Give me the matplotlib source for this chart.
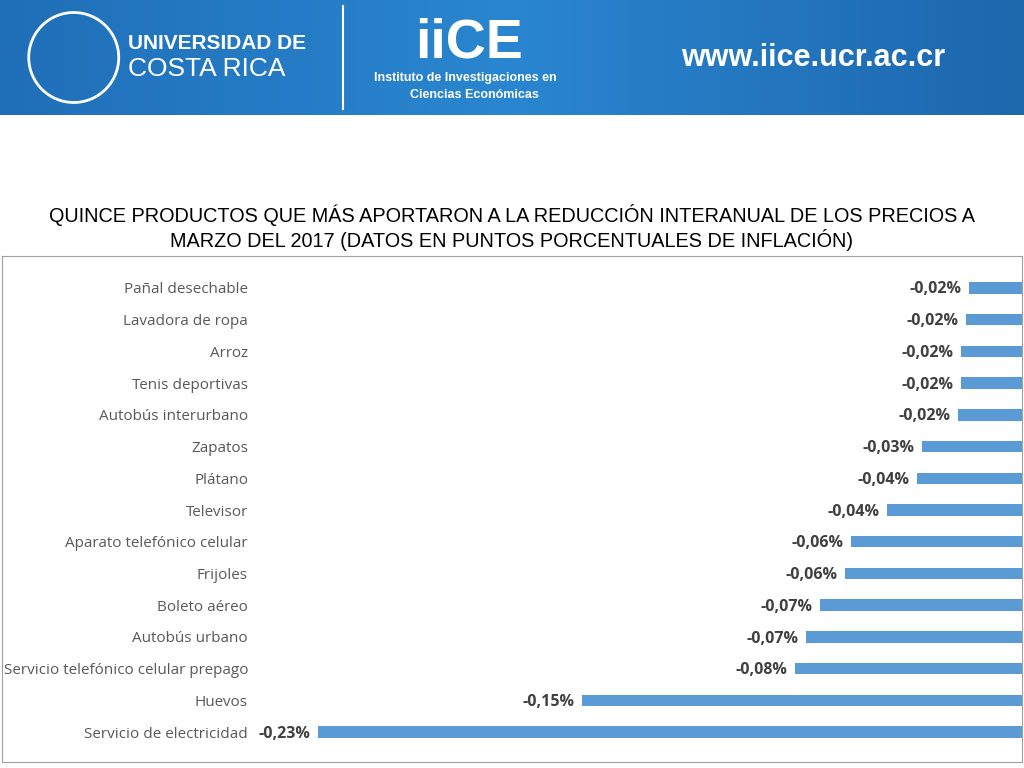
import matplotlib
matplotlib.use("Agg")
import matplotlib.pyplot as plt
import numpy as np
from matplotlib.colors import LinearSegmentedColormap
from matplotlib.patches import Ellipse

categories = ["Pañal desechable","Lavadora de ropa","Arroz","Tenis deportivas","Autobús interurbano",
              "Zapatos","Plátano","Televisor","Aparato telefónico celular","Frijoles","Boleto aéreo",
              "Autobús urbano","Servicio telefónico celular prepago","Huevos","Servicio de electricidad"]
values = [-0.0173,-0.0183,-0.0199,-0.0199,-0.0209,-0.0327,-0.0343,-0.0441,-0.0559,-0.0578,-0.066,
          -0.0706,-0.0742,-0.1437,-0.23]
value_labels = ["-0,02%","-0,02%","-0,02%","-0,02%","-0,02%","-0,03%","-0,04%","-0,04%","-0,06%",
                "-0,06%","-0,07%","-0,07%","-0,08%","-0,15%","-0,23%"]

W, H = 1024, 768
fig = plt.figure(figsize=(W/100, H/100), dpi=100)

# banner
bax = fig.add_axes([0, 1-115/H, 1, 115/H])
grad = np.linspace(0, 1, 256).reshape(1, -1)
cm = LinearSegmentedColormap.from_list("b", ["#1f6fb8", "#2a86d0", "#1d67ad"])
bax.imshow(grad, aspect="auto", cmap=cm, extent=[0, 1, 0, 1])
bax.set_xlim(0, 1); bax.set_ylim(0, 1)
bax.set_axis_off()
bax.text(0.125, 0.62, "UNIVERSIDAD DE", color="white", fontsize=15, fontweight="bold", family="Liberation Sans", va="center")
bax.text(0.125, 0.40, "COSTA RICA", color="white", fontsize=19, family="Liberation Sans", va="center")
bax.text(0.405, 0.62, "iiCE", color="white", fontsize=40, fontweight="bold", family="Liberation Sans", va="center")
bax.text(0.365, 0.32, "Instituto de Investigaciones en", color="white", fontsize=9, fontweight="bold", family="Liberation Sans", va="center")
bax.text(0.40, 0.17, "Ciencias Económicas", color="white", fontsize=9, fontweight="bold", family="Liberation Sans", va="center")
bax.text(0.665, 0.50, "www.iice.ucr.ac.cr", color="white", fontsize=22, fontweight="bold", family="Liberation Sans", va="center")
bax.plot([0.335, 0.335], [0.05, 0.95], color="white", lw=1.5)
bax.add_patch(Ellipse((0.072, 0.5), 90/W, 90/115, fill=False, ec="white", lw=2))

fig.text(0.5, 1-215/H, "QUINCE PRODUCTOS QUE MÁS APORTARON A LA REDUCCIÓN INTERANUAL DE LOS PRECIOS A",
         ha="center", va="center", fontsize=14.3, family="Liberation Sans")
fig.text(0.5, 1-240/H, "MARZO DEL 2017 (DATOS EN PUNTOS PORCENTUALES DE INFLACIÓN)",
         ha="center", va="center", fontsize=14.3, family="Liberation Sans")

frame = fig.add_axes([2/W, 1-762/H, 1020/W, 506/H])
frame.set_xticks([]); frame.set_yticks([])
for s in frame.spines.values():
    s.set_color("#a0a0a0")
frame.patch.set_alpha(0)

ax = fig.add_axes([255/W, 1-748/H, 767/W, 476/H])
y = np.arange(len(categories))
ax.barh(y, values, height=0.36, color="#5b9bd5")
ax.set_xlim(-0.2506, 0)
ax.set_ylim(len(categories)-0.5, -0.5)
ax.set_yticks(y)
ax.set_yticklabels(categories, fontsize=11, color="#595959", family="Open Sans")
ax.tick_params(axis="y", length=0, pad=5)
ax.set_xticks([])
for s in ax.spines.values():
    s.set_visible(False)
ax.patch.set_alpha(0)
for yi, v, lab in zip(y, values, value_labels):
    ax.text(v - 0.0025, yi + 0.05, lab, ha="right", va="center", fontsize=11.5,
            fontweight="bold", color="#404040", family="Open Sans")

fig.savefig("out.png", dpi=100)
